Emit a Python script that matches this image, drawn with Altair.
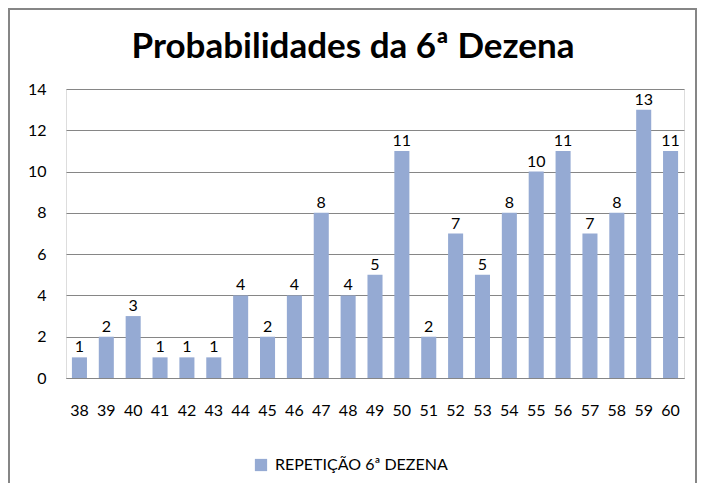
import altair as alt
import pandas as pd

categories = ["38", "39", "40", "41", "42", "43", "44", "45", "46", "47", "48", "49",
              "50", "51", "52", "53", "54", "55", "56", "57", "58", "59", "60"]
values = [1, 2, 3, 1, 1, 1, 4, 2, 4, 8, 4, 5, 11, 2, 7, 5, 8, 10, 11, 7, 8, 13, 11]
series_name = "REPETIÇÃO 6ª DEZENA"
title_text = "Probabilidades da 6ª Dezena"

df = pd.DataFrame({"cat": categories, "val": values, "serie": [series_name] * len(values)})

FONT = "Lato"
BAR = "#95AAD3"

x = alt.X("cat:N", sort=categories, title=None,
          scale=alt.Scale(paddingInner=0.44, paddingOuter=0.22),
          axis=alt.Axis(labelAngle=0, labelFontSize=16, labelColor="#000", labelFont=FONT,
                        ticks=False, domainColor="#868686", domainWidth=1,
                        labelPadding=24, grid=False))
y = alt.Y("val:Q", title=None,
          scale=alt.Scale(domain=[0, 14], nice=False),
          axis=alt.Axis(values=list(range(0, 15, 2)), labelFontSize=16, labelColor="#000",
                        labelFont=FONT, ticks=False, domain=False, labelPadding=20,
                        gridColor="#868686", gridWidth=1))

bars = alt.Chart(df).mark_bar().encode(
    x=x, y=y,
    color=alt.Color("serie:N", scale=alt.Scale(range=[BAR]),
                    legend=alt.Legend(title=None, orient="none", legendX=187, legendY=368,
                                      symbolType="square", symbolSize=150, symbolStrokeWidth=0,
                                      labelFontSize=16, labelFont=FONT, labelColor="#000",
                                      labelOffset=6, labelLimit=400))
)

labels = alt.Chart(df).mark_text(baseline="alphabetic", dy=-5, fontSize=16, font=FONT,
                                 color="#000").encode(
    x=alt.X("cat:N", sort=categories), y="val:Q", text="val:Q")

frame = alt.Chart(df).mark_rect(fill=None, stroke="#868686", strokeWidth=2).encode(
    x=alt.value(-57), x2=alt.value(630), y=alt.value(-80), y2=alt.value(409))

chart = alt.layer(frame, bars, labels).properties(
    width=618, height=289,
    autosize=alt.AutoSizeParams(type="none"),
    padding={"left": 58, "top": 81, "right": 14, "bottom": 105},
    title=alt.TitleParams(title_text, font=FONT, fontSize=35, fontWeight="bold",
                          color="#000", anchor="middle", dx=-22, offset=-57),
).configure_view(stroke=None).configure(background="white")

chart.save("out.html", embed_options={"renderer": "svg", "actions": False})
